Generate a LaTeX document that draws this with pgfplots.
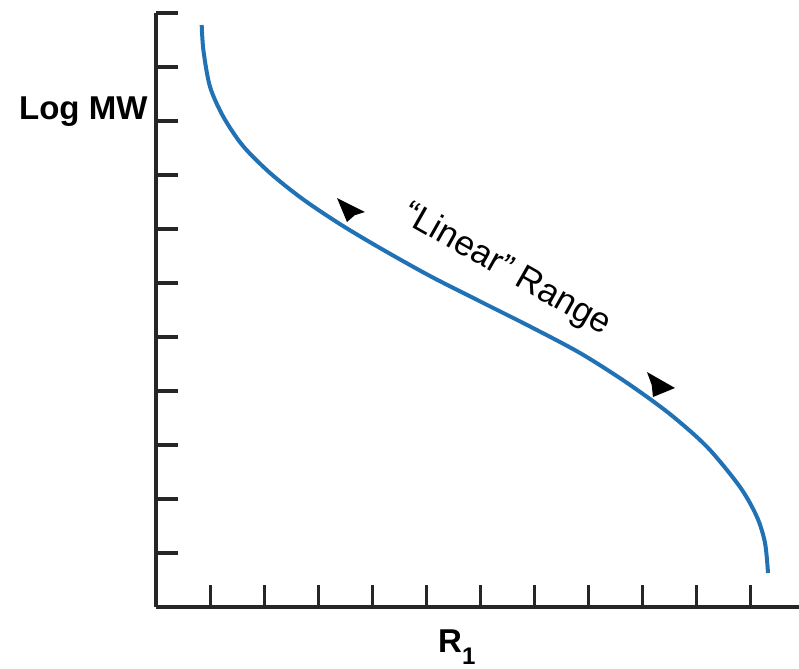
\documentclass[border=0pt]{standalone}
\usepackage{fontspec}
\setmainfont{Liberation Sans}
\usepackage{pgfplots}
\pgfplotsset{compat=1.18}
\definecolor{curve}{RGB}{33,113,181}
\begin{document}
\begin{tikzpicture}
\begin{axis}[
  x=27pt, y=27pt,
  xmin=0, xmax=11.9, ymin=0, ymax=11,
  axis lines=left,
  axis line style={-, line width=2pt, black!85},
  xtick={1,...,11}, ytick={1,...,11},
  xticklabels={}, yticklabels={},
  tick align=inside,
  major tick length=11pt,
  tick style={line width=1.6pt, black!85},
  clip=false,
]
\addplot[curve, line width=2pt, smooth, tension=0.5] coordinates {
(0.837,10.778) (0.870,10.30) (0.991,9.635) (1.237,9.080) (1.600,8.540)
(2.100,8.040) (2.700,7.560) (3.400,7.090) (4.139,6.648) (5.065,6.130)
(5.991,5.660) (6.917,5.195) (7.843,4.704) (8.700,4.160) (9.500,3.580)
(10.200,2.960) (10.806,2.222) (11.120,1.667) (11.269,1.185) (11.324,0.630)
};
\addplot[fill=black, draw=none] coordinates {(3.343,7.574) (3.861,7.315) (3.67,7.255) (3.528,7.130)} -- cycle;
\addplot[fill=black, draw=none] coordinates {(9.602,4.056) (9.083,4.352) (9.17,4.115) (9.194,3.889)} -- cycle;
\node[rotate=-29.5, font=\fontsize{17.5}{20}\selectfont, inner sep=0pt] at (axis cs:6.48,6.24) {“Linear” Range};
\node[anchor=base east, font=\bfseries\fontsize{16.5}{20}\selectfont, inner sep=0pt] at (axis cs:-0.16,9.02) {Log MW};
\node[anchor=base west, font=\bfseries\fontsize{16.5}{20}\selectfont, inner sep=0pt] at (axis cs:5.21,-0.85) {R\raisebox{-6pt}{\fontsize{12}{14}\selectfont 1}};
\coordinate (bl) at (axis cs:-2.898,-1.130);
\coordinate (tr) at (axis cs:11.898,11.241);
\end{axis}
\pgfresetboundingbox
\path[use as bounding box] (bl) rectangle (tr);
\end{tikzpicture}
\end{document}
